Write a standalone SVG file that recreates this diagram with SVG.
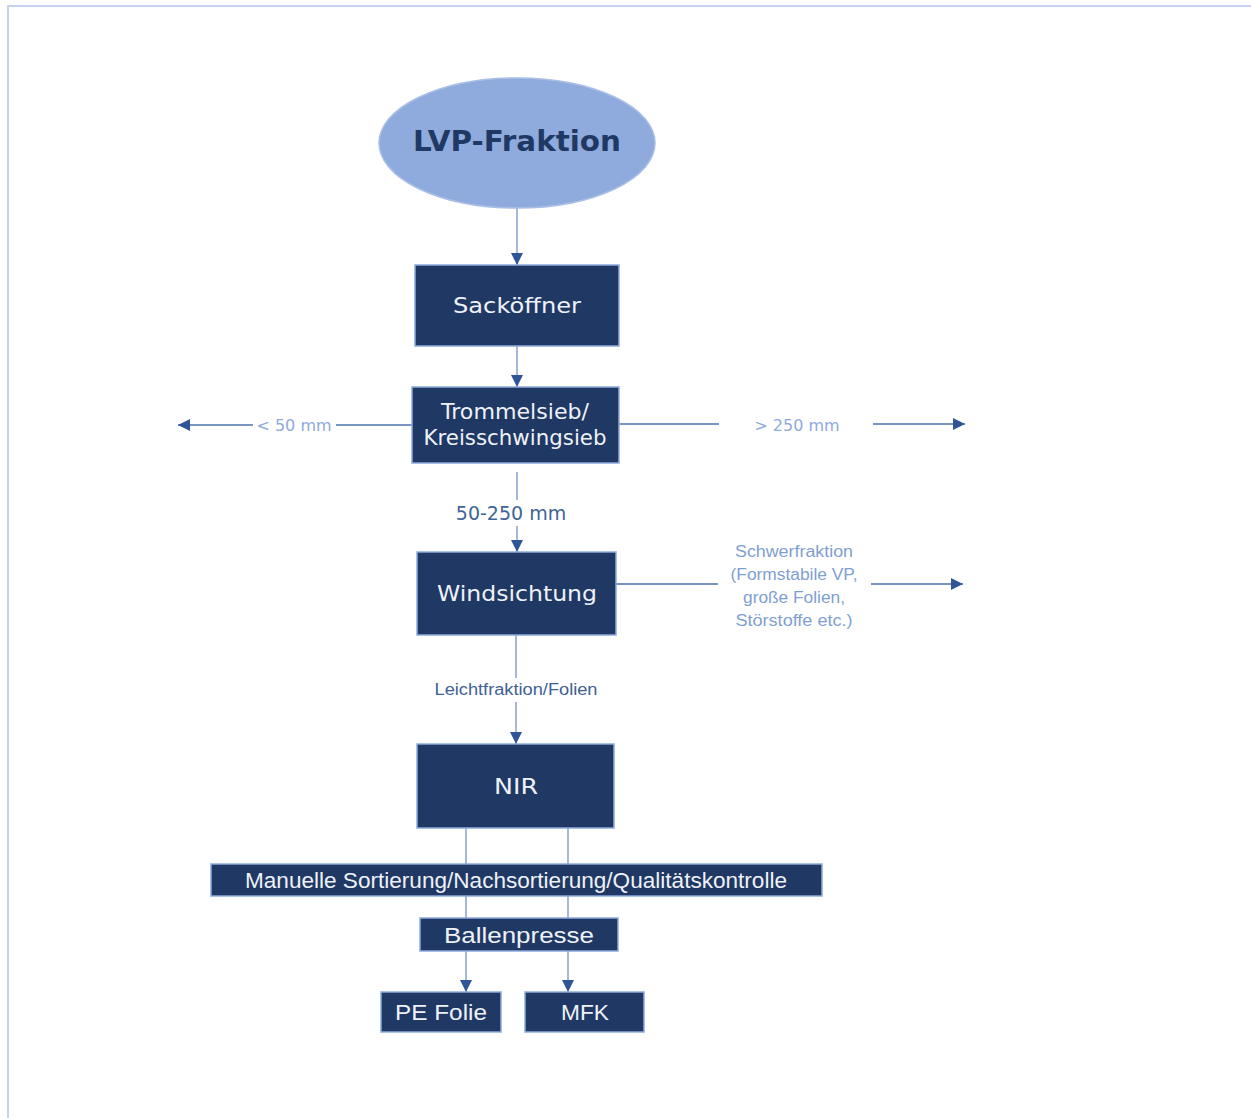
<svg xmlns="http://www.w3.org/2000/svg" width="1251" height="1118" viewBox="0 0 1251 1118">
  <style>
    .box { fill: #203864; stroke: #8faadc; stroke-width: 1.5; }
    .boxtxt { fill: #eef2f8; font-family: "DejaVu Sans", Verdana, sans-serif; font-size: 22px; text-anchor: middle; }
    .boxtxt2 { fill: #eef2f8; font-family: "Liberation Sans", Arial, sans-serif; font-size: 22px; text-anchor: middle; }
    .conn { stroke: #7593c9; stroke-width: 1.3; fill: none; }
    .side { stroke: #4c6fae; stroke-width: 1.3; fill: none; }
    .lbl-light { fill: #8eaadb; font-family: "DejaVu Sans", Verdana, sans-serif; font-size: 16px; text-anchor: middle; }
    .lbl-soft { fill: #7f9fd3; font-family: "Liberation Sans", Arial, sans-serif; font-size: 16px; text-anchor: middle; }
    .lbl-dark { fill: #3f6598; font-family: "DejaVu Sans", Verdana, sans-serif; font-size: 19px; text-anchor: middle; }
    .lbl-dark2 { fill: #3d6195; font-family: "Liberation Sans", Arial, sans-serif; font-size: 16px; text-anchor: middle; }
  </style>
  <defs>
    <marker id="head" markerUnits="userSpaceOnUse" markerWidth="13" markerHeight="13" refX="12" refY="6" orient="auto">
      <path d="M0,0 L12,6 L0,12 z" fill="#2f5597"/>
    </marker>
  </defs>

  <!-- page frame -->
  <path d="M8,1118 L8,6 L1251,6" fill="none" stroke="#c8d1ef" stroke-width="2"/>

  <!-- connectors -->
  <g id="connectors">
    <line class="conn" x1="517" y1="208" x2="517" y2="265" marker-end="url(#head)"/>
    <line class="conn" x1="517" y1="346" x2="517" y2="387" marker-end="url(#head)"/>
    <!-- fine fraction to the left -->
    <line class="side" x1="412" y1="425" x2="336" y2="425"/>
    <line class="side" x1="253" y1="425" x2="178" y2="425" marker-end="url(#head)"/>
    <text class="lbl-light" x="294" y="431">&lt; 50 mm</text>
    <!-- coarse fraction to the right -->
    <line class="side" x1="619" y1="424" x2="719" y2="424"/>
    <line class="side" x1="873" y1="424" x2="965" y2="424" marker-end="url(#head)"/>
    <text class="lbl-light" x="797" y="431">&gt; 250 mm</text>
    <!-- middle fraction down -->
    <line class="conn" x1="517" y1="472" x2="517" y2="500"/>
    <line class="conn" x1="517" y1="526" x2="517" y2="552" marker-end="url(#head)"/>
    <text class="lbl-dark" x="511" y="520">50-250 mm</text>
    <!-- heavy fraction to the right -->
    <line class="side" x1="616" y1="584" x2="718" y2="584"/>
    <line class="side" x1="871" y1="584" x2="963" y2="584" marker-end="url(#head)"/>
    <text class="lbl-soft" x="794" y="557" textLength="118" lengthAdjust="spacingAndGlyphs">Schwerfraktion</text>
    <text class="lbl-soft" x="794" y="580" textLength="127" lengthAdjust="spacingAndGlyphs">(Formstabile VP,</text>
    <text class="lbl-soft" x="794" y="603" textLength="102" lengthAdjust="spacingAndGlyphs">große Folien,</text>
    <text class="lbl-soft" x="794" y="626" textLength="117" lengthAdjust="spacingAndGlyphs">Störstoffe etc.)</text>
    <!-- light fraction down -->
    <line class="conn" x1="516" y1="635" x2="516" y2="678"/>
    <line class="conn" x1="516" y1="702" x2="516" y2="744" marker-end="url(#head)"/>
    <text class="lbl-dark2" x="516" y="695" textLength="163" lengthAdjust="spacingAndGlyphs">Leichtfraktion/Folien</text>
    <!-- NIR outputs -->
    <line class="conn" x1="466" y1="828" x2="466" y2="864"/>
    <line class="conn" x1="568" y1="828" x2="568" y2="864"/>
    <line class="conn" x1="466" y1="896" x2="466" y2="918"/>
    <line class="conn" x1="568" y1="896" x2="568" y2="918"/>
    <line class="conn" x1="466" y1="951" x2="466" y2="992" marker-end="url(#head)"/>
    <line class="conn" x1="568" y1="951" x2="568" y2="992" marker-end="url(#head)"/>
  </g>

  <g id="lvp">
    <ellipse cx="517" cy="143" rx="138" ry="65" fill="#8faadc" stroke="#a9bfe6" stroke-width="1.5"/>
    <text x="517" y="151" fill="#1f3864" font-family="'DejaVu Sans', Verdana, sans-serif" font-size="28" font-weight="bold" text-anchor="middle" textLength="208" lengthAdjust="spacingAndGlyphs">LVP-Fraktion</text>
  </g>

  <g id="sackoeffner">
    <rect class="box" x="415" y="265" width="204" height="81"/>
    <text class="boxtxt" x="517" y="313" textLength="128" lengthAdjust="spacingAndGlyphs">Sacköffner</text>
  </g>

  <g id="trommelsieb">
    <rect class="box" x="412" y="387" width="207" height="76"/>
    <text class="boxtxt" x="515" y="419" font-size="20" textLength="148" lengthAdjust="spacingAndGlyphs">Trommelsieb/</text>
    <text class="boxtxt" x="515" y="445" font-size="20" textLength="183" lengthAdjust="spacingAndGlyphs">Kreisschwingsieb</text>
  </g>

  <g id="windsichtung">
    <rect class="box" x="417" y="552" width="199" height="83"/>
    <text class="boxtxt" x="517" y="601" textLength="160" lengthAdjust="spacingAndGlyphs">Windsichtung</text>
  </g>

  <g id="nir">
    <rect class="box" x="417" y="744" width="197" height="84"/>
    <text class="boxtxt" x="516" y="794" textLength="44" lengthAdjust="spacingAndGlyphs">NIR</text>
  </g>

  <g id="manuelle-sortierung">
    <rect class="box" x="211" y="864" width="611" height="32"/>
    <text class="boxtxt2" x="516" y="888" font-size="20" textLength="542" lengthAdjust="spacingAndGlyphs">Manuelle Sortierung/Nachsortierung/Qualitätskontrolle</text>
  </g>

  <g id="ballenpresse">
    <rect class="box" x="420" y="918" width="198" height="33"/>
    <text class="boxtxt2" x="519" y="943" textLength="150" lengthAdjust="spacingAndGlyphs">Ballenpresse</text>
  </g>

  <g id="pe-folie">
    <rect class="box" x="381" y="992" width="120" height="40"/>
    <text class="boxtxt2" x="441" y="1020" textLength="92" lengthAdjust="spacingAndGlyphs">PE Folie</text>
  </g>

  <g id="mfk">
    <rect class="box" x="525" y="992" width="119" height="40"/>
    <text class="boxtxt2" x="585" y="1020" textLength="48" lengthAdjust="spacingAndGlyphs">MFK</text>
  </g>
</svg>
